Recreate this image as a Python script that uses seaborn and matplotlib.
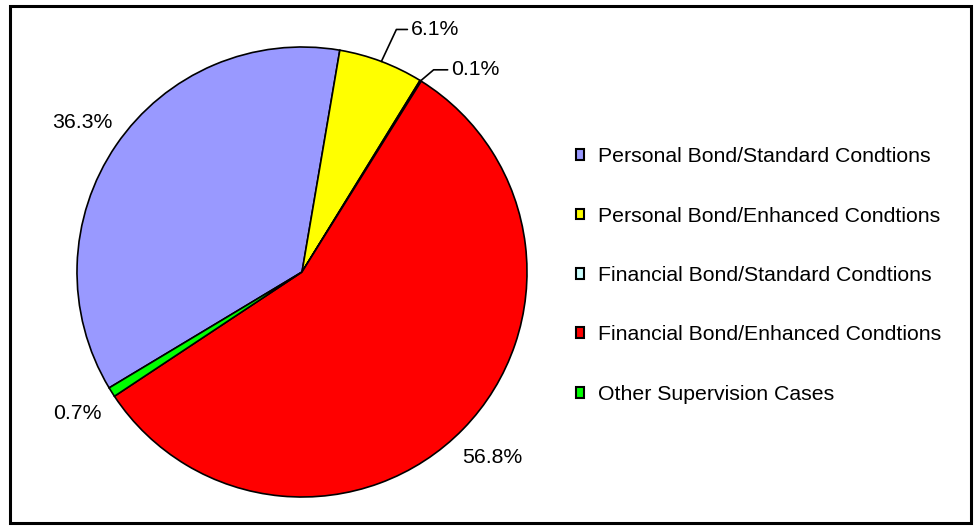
import numpy as np
import matplotlib
matplotlib.use("Agg")
import matplotlib.pyplot as plt
import seaborn as sns
from matplotlib.patches import Patch, Rectangle


# Chart data
categories = [
    "Personal Bond/Standard Condtions",
    "Personal Bond/Enhanced Condtions",
    "Financial Bond/Standard Condtions",
    "Financial Bond/Enhanced Condtions",
    "Other Supervision Cases",
]
shares = [36.3, 6.1, 0.1, 56.8, 0.7]
colors = ["#9999FF", "#FFFF00", "#CCFFFF", "#FF0000", "#00FF00"]


sns.set_theme(style="white")
plt.rcParams["font.family"] = ["Liberation Sans", "DejaVu Sans"]
plt.rcParams["text.color"] = "black"

FS = 15.3

fig = plt.figure(figsize=(9.75, 5.27), dpi=100)
ax = fig.add_axes([77 / 975, 30 / 527, 450 / 975, 450 / 527])

wedges, texts, autotexts = ax.pie(
    shares,
    colors=colors,
    startangle=-149,
    counterclock=False,
    autopct="%.1f%%",
    pctdistance=1.18,
    wedgeprops={"edgecolor": "black", "linewidth": 1.2},
    textprops={"fontsize": FS, "color": "black"},
)
ax.set_xlim(-1, 1)
ax.set_ylim(-1, 1)
ax.set_aspect("equal")
ax.axis("off")

# small slices get a leader line instead of the default label spot
offsets = {1: (30, 32, 11), 2: (31, 11, 14)}
for i, (dx, dy, run) in offsets.items():
    w = wedges[i]
    ang = np.deg2rad((w.theta1 + w.theta2) / 2)
    x0, y0 = np.cos(ang), np.sin(ang)
    autotexts[i].set_visible(False)
    px = 1 / 225
    elbow_x = x0 + (dx - run - 4) * px
    elbow_y = y0 + dy * px
    ax.plot([x0, elbow_x, elbow_x + run * px], [y0, elbow_y, elbow_y],
            color="black", lw=1.2, clip_on=False)
    ax.text(elbow_x + (run + 3) * px, elbow_y, autotexts[i].get_text(),
            fontsize=FS, ha="left", va="center", color="black")

handles = [Patch(facecolor=c, edgecolor="black", linewidth=1.5) for c in colors]
fig.legend(
    handles, categories,
    loc="center left",
    bbox_to_anchor=(565 / 975, 1 - 275.5 / 527),
    frameon=False,
    fontsize=FS,
    labelcolor="black",
    borderpad=0,
    handlelength=0.4,
    handleheight=0.4,
    handletextpad=0.66,
    labelspacing=1.9,
)

# outer chart border
fig.patches.append(Rectangle((10 / 975, 4 / 527), 961 / 975, 517 / 527,
                             transform=fig.transFigure, fill=False,
                             edgecolor="black", linewidth=2.2))

fig.savefig("out.png", dpi=100, facecolor="white")
